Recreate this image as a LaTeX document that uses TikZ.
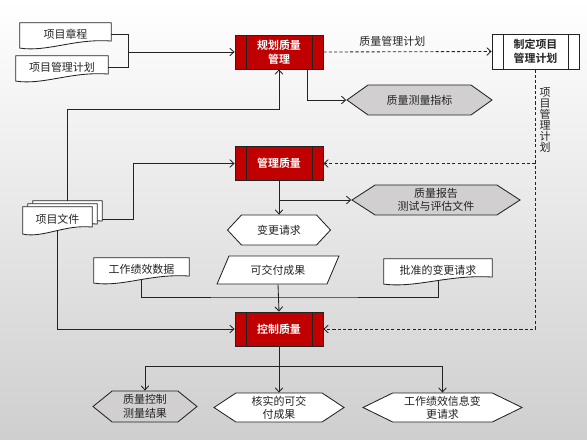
\documentclass[tikz,border=0pt]{standalone}
\usepackage{fontspec}
\setmainfont{Noto Sans CJK SC}[BoldFont={* Bold}]
\usetikzlibrary{calc,arrows.meta,shapes.geometric,shapes.symbols}

\definecolor{boxred}{RGB}{192,0,0}
\definecolor{hexgray}{RGB}{209,207,207}
\definecolor{inkgray}{RGB}{35,35,35}
\newcommand{\px}{0.025cm}
\pgfdeclarelayer{bg}
\pgfsetlayers{bg,main}

% outline of a document node, drawn behind it
\newcommand{\docshape}[2][]{%
  \draw[docline,#1] (#2.north west) -- (#2.north east) -- ([yshift=3pt]#2.south east)
    .. controls ($(#2.south west)!0.6!(#2.south east)+(0,5pt)$) and ($(#2.south west)!0.3!(#2.south east)+(0,-5pt)$)
    .. ([yshift=-2pt]#2.south west) -- cycle;}

\tikzset{
  flow/.style={line width=0.6pt, draw=inkgray},
  arr/.style={flow, -{Straight Barb[length=3pt,width=5.5pt]}},
  dasharr/.style={arr, dash pattern=on 2.2pt off 1.6pt},
  docline/.style={line width=0.6pt, draw=inkgray, fill=white},
  procbox/.style={rectangle, draw=inkgray, line width=0.6pt, fill=boxred, text=white,
    font=\fontsize{7.8}{10}\selectfont\bfseries, align=center,
    minimum width=88*\px, minimum height=34*\px,
    path picture={
      \draw[inkgray, line width=0.6pt] ([xshift=0.275cm]path picture bounding box.north west) -- ([xshift=0.275cm]path picture bounding box.south west);
      \draw[inkgray, line width=0.6pt] ([xshift=-0.275cm]path picture bounding box.north east) -- ([xshift=-0.275cm]path picture bounding box.south east);
    }},
  docbox/.style={rectangle, inner sep=0pt, align=center, minimum height=22*\px},
  hexbox/.style={signal, signal to=west and east, draw=inkgray, line width=0.6pt,
    fill=white, align=center, inner sep=0pt, minimum height=30*\px},
  grayhex/.style={hexbox, fill=hexgray},
}

\begin{document}
\begin{tikzpicture}[x=0.025cm, y=-0.025cm, font=\fontsize{7.8}{9.5}\selectfont, text=inkgray]
\useasboundingbox (0,0) rectangle (587,440);

% processes
\node[procbox] (planq) at (279,52) {规划质量\\管理};
\node[procbox] (manq) at (279,163.5) {管理质量};
\node[procbox] (ctrlq) at (279,329) {控制质量};
\node[procbox, fill=white, text=inkgray, minimum width=87*\px, minimum height=35*\px] (devpmp) at (535.5,51.5) {制定项目\\管理计划};

% inputs
\node[docbox, minimum width=91*\px] (charter) at (65.5,34) {项目章程};
\node[docbox, minimum width=92*\px] (pmplan) at (62,67) {项目管理计划};
\node[docbox, minimum width=69*\px, minimum height=24*\px] (docs) at (57.5,219) {项目文件};
\node[docbox, minimum width=95*\px] (wpd) at (141.5,269) {工作绩效数据};
\node[docbox, minimum width=108*\px] (acr) at (438,270) {批准的变更请求};
\node[trapezium, trapezium left angle=57, trapezium right angle=123, trapezium stretches=true,
  draw=inkgray, line width=0.6pt, fill=white, inner sep=0pt,
  minimum width=122*\px, minimum height=28*\px] (deliv) at (278,270) {可交付成果};

% outputs
\node[grayhex, minimum width=145*\px, signal pointer angle=71] (metrics) at (419.5,100) {质量测量指标};
\node[grayhex, minimum width=168*\px, signal pointer angle=66] (report) at (436,200) {质量报告\\测试与评估文件};
\node[hexbox, minimum width=103*\px, signal pointer angle=94] (chg) at (279,230) {变更请求};
\node[grayhex, minimum width=104*\px, minimum height=31*\px, signal pointer angle=78] (qcm) at (145,406.5) {质量控制\\测量结果};
\node[hexbox, minimum width=130*\px, minimum height=29*\px, signal pointer angle=67] (verdel) at (279,407.5) {核实的可交\\付成果};
\node[hexbox, minimum width=159*\px, minimum height=29*\px, signal pointer angle=52] (wpi) at (442.5,407.5) {工作绩效信息变\\更请求};

\node[align=center, font=\fontsize{7.8}{7.9}\selectfont] (pmplbl) at (545,120) {项\\目\\管\\理\\计\\划};

% connectors
\coordinate (injoin) at (128,52);
\draw[flow] (charter.east) -| (injoin);
\draw[flow] (pmplan.east) -| (injoin);
\draw[arr] (injoin) -- (planq.west);
\draw[dasharr] (planq.east) -- node[pos=0.41, above] {质量管理计划} (devpmp.west);
\draw[arr] ($(planq.south)+(28,0)$) |- (metrics.west);
\draw[arr] ($(docs.north)+(10,-6)$) |- ($(planq.south)+(0,40)$) -- (planq.south);
\draw[arr] ($(docs.east)+(10,0)$) -- ++(31,0) |- (manq.west);
\draw[dasharr] (devpmp.south) |- (ctrlq.east);
\draw[dasharr] (devpmp.south |- manq.east) -- (manq.east);
\draw[arr] (manq.south) -- (chg.north);
\draw[arr] (manq.south |- report.west) -- (report.west);
\coordinate (merge) at (279,297);
\draw[flow] (wpd.south) |- (merge) -| (acr.south);
\draw[arr] (deliv.south) -- (ctrlq.north);
\draw[arr] (docs.south) |- (ctrlq.west);
\coordinate (split) at (279,366);
\draw[arr] (ctrlq.south) -- (verdel.north);
\draw[arr] (split) -| (qcm.north);
\draw[arr] (split) -| (wpi.north);

\begin{pgfonlayer}{bg}
  \shade[top color=white, middle color=black!3, bottom color=black!19] (0cm,0cm) rectangle (14.675cm,-11cm);
  \docshape{charter}
  \docshape{pmplan}
  \docshape[transform canvas={xshift=7.1pt, yshift=4.27pt}]{docs}
  \docshape[transform canvas={xshift=3.56pt, yshift=2.13pt}]{docs}
  \docshape{docs}
  \docshape{wpd}
  \docshape{acr}
\end{pgfonlayer}
\end{tikzpicture}
\end{document}
